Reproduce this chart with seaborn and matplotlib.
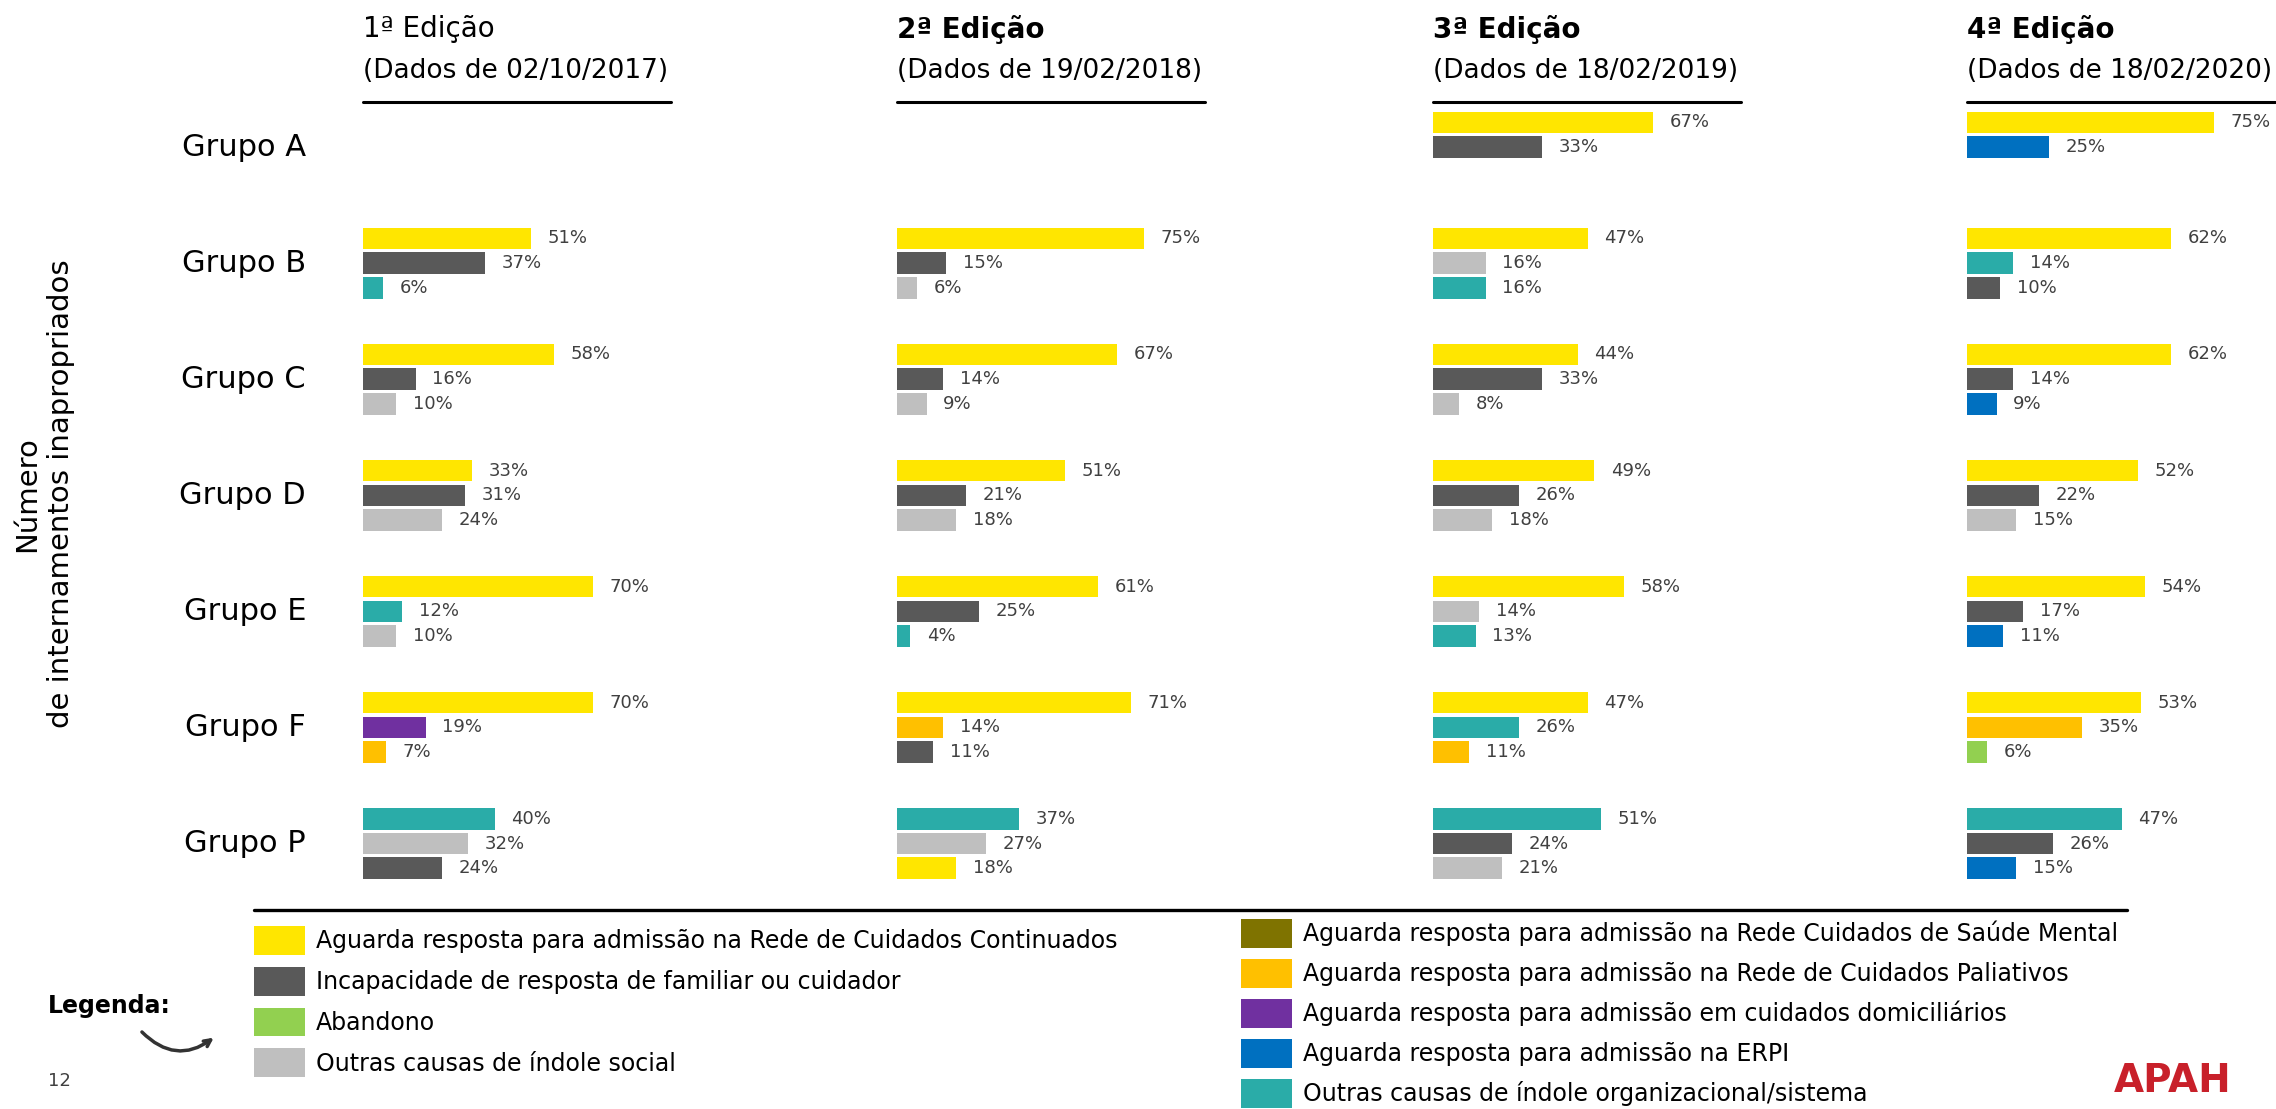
import matplotlib
matplotlib.use("Agg")
import matplotlib.pyplot as plt
import matplotlib.transforms as mtransforms
from matplotlib.lines import Line2D
from matplotlib.patches import Patch
import pandas as pd
import seaborn as sns

# dados
groups = ["Grupo A", "Grupo B", "Grupo C", "Grupo D", "Grupo E", "Grupo F", "Grupo P"]

cause_keys = ["rncci", "familiar", "abandono", "social", "mental",
              "paliativos", "domiciliarios", "erpi", "organizacional"]
cause_labels = [
    "Aguarda resposta para admissão na Rede de Cuidados Continuados",
    "Incapacidade de resposta de familiar ou cuidador",
    "Abandono",
    "Outras causas de índole social",
    "Aguarda resposta para admissão na Rede Cuidados de Saúde Mental",
    "Aguarda resposta para admissão na Rede de Cuidados Paliativos",
    "Aguarda resposta para admissão em cuidados domiciliários",
    "Aguarda resposta para admissão na ERPI",
    "Outras causas de índole organizacional/sistema",
]
cause_colors = ["#FFE600", "#595959", "#92D050", "#BFBFBF", "#7F7300",
                "#FFC000", "#7030A0", "#0070C0", "#2AACA8"]

edition_titles = ["1ª Edição", "2ª Edição", "3ª Edição", "4ª Edição"]
edition_dates = ["(Dados de 02/10/2017)", "(Dados de 19/02/2018)",
                 "(Dados de 18/02/2019)", "(Dados de 18/02/2020)"]

ed1_causes = [[],
              ["rncci", "familiar", "organizacional"],
              ["rncci", "familiar", "social"],
              ["rncci", "familiar", "social"],
              ["rncci", "organizacional", "social"],
              ["rncci", "domiciliarios", "paliativos"],
              ["organizacional", "social", "familiar"]]
ed1_values = [[], [51, 37, 6], [58, 16, 10], [33, 31, 24], [70, 12, 10], [70, 19, 7], [40, 32, 24]]

ed2_causes = [[],
              ["rncci", "familiar", "social"],
              ["rncci", "familiar", "social"],
              ["rncci", "familiar", "social"],
              ["rncci", "familiar", "organizacional"],
              ["rncci", "paliativos", "familiar"],
              ["organizacional", "social", "rncci"]]
ed2_values = [[], [75, 15, 6], [67, 14, 9], [51, 21, 18], [61, 25, 4], [71, 14, 11], [37, 27, 18]]

ed3_causes = [["rncci", "familiar"],
              ["rncci", "social", "organizacional"],
              ["rncci", "familiar", "social"],
              ["rncci", "familiar", "social"],
              ["rncci", "social", "organizacional"],
              ["rncci", "organizacional", "paliativos"],
              ["organizacional", "familiar", "social"]]
ed3_values = [[67, 33], [47, 16, 16], [44, 33, 8], [49, 26, 18], [58, 14, 13], [47, 26, 11], [51, 24, 21]]

ed4_causes = [["rncci", "erpi"],
              ["rncci", "organizacional", "familiar"],
              ["rncci", "familiar", "erpi"],
              ["rncci", "familiar", "social"],
              ["rncci", "familiar", "erpi"],
              ["rncci", "paliativos", "abandono"],
              ["organizacional", "familiar", "erpi"]]
ed4_values = [[75, 25], [62, 14, 10], [62, 14, 9], [52, 22, 15], [54, 17, 11], [53, 35, 6], [47, 26, 15]]

# layout (pixels)
W_PX, H_PX, DPI = 2276, 1109, 100
PX_PER_PCT = 3.29
GROUP_STEP = 4.7          # distância entre grupos, em "slots" de barra
SLOT_PX = 24.7
FIRST_SLOT_PX = 122.3
AX_TOP, AX_BOTTOM, AX_W = 110, 880, 300
panel_x = [363, 897, 1433, 1967]


def edition_frame(causes, values):
    rows = []
    for g, (cs, vs) in enumerate(zip(causes, values)):
        for s, (c, v) in enumerate(zip(cs, vs)):
            rows.append({"pos": g * GROUP_STEP + s, "value": v, "cause": c})
    return pd.DataFrame(rows)


def fx(px):
    return px / W_PX


def fy(py):
    return 1 - py / H_PX


sns.set_theme(style="white")
plt.rcParams["font.family"] = ["DejaVu Sans"]
plt.rcParams["text.color"] = "black"

fig = plt.figure(figsize=(W_PX / DPI, H_PX / DPI), dpi=DPI)
palette = dict(zip(cause_keys, cause_colors))

editions = [(ed1_causes, ed1_values), (ed2_causes, ed2_values),
            (ed3_causes, ed3_values), (ed4_causes, ed4_values)]

y_top = -(FIRST_SLOT_PX - AX_TOP) / SLOT_PX
y_bot = (AX_BOTTOM - FIRST_SLOT_PX) / SLOT_PX

axes = []
for i, (causes, values) in enumerate(editions):
    x0 = panel_x[i]
    ax = fig.add_axes([fx(x0), fy(AX_BOTTOM), AX_W / W_PX, (AX_BOTTOM - AX_TOP) / H_PX])
    df = edition_frame(causes, values)
    sns.barplot(data=df, x="value", y="pos", hue="cause", hue_order=cause_keys,
                palette=palette, orient="y", native_scale=True, dodge=False,
                width=0.87, errorbar=None, saturation=1, linewidth=0,
                legend=False, ax=ax)
    ax.set_xlim(0, AX_W / PX_PER_PCT)
    ax.set_ylim(y_bot, y_top)
    for cont in ax.containers:
        ax.bar_label(cont, fmt="%d%%", padding=12, fontsize=13, color="#404040")
    ax.axis("off")
    axes.append(ax)

    # cabeçalho
    fig.text(fx(x0), fy(29), edition_titles[i], fontsize=20,
             fontweight="normal" if i == 0 else "bold", ha="left", va="center")
    fig.text(fx(x0), fy(71), edition_dates[i], fontsize=19, ha="left", va="center")
    x1 = min(x0 + 308, W_PX)
    fig.add_artist(Line2D([fx(x0), fx(x1)], [fy(102), fy(102)],
                          transform=fig.transFigure, color="black", lw=2.2))

# rótulos dos grupos
trans = mtransforms.blended_transform_factory(fig.transFigure, axes[0].transData)
for g, name in enumerate(groups):
    fig.text(fx(306), g * GROUP_STEP + 1, name, transform=trans,
             fontsize=22, ha="right", va="center")

fig.text(fx(44), fy(494), "Número\nde internamentos inapropriados", rotation=90,
         fontsize=21, ha="center", va="center", multialignment="center",
         linespacing=1.25)

# linha separadora
fig.add_artist(Line2D([fx(254), fx(2127)], [fy(910), fy(910)],
                      transform=fig.transFigure, color="black", lw=2.4))

# legenda
handles = [Patch(facecolor=c, edgecolor="none", label=l) for c, l in zip(cause_colors, cause_labels)]
leg_kw = dict(loc="upper left", bbox_transform=fig.transFigure, frameon=False,
              fontsize=17, handlelength=2.16, handleheight=1.51, handletextpad=0.47,
              borderpad=0, borderaxespad=0)
leg1 = fig.legend(handles=handles[:4], bbox_to_anchor=(fx(254), fy(926)),
                  labelspacing=0.5, **leg_kw)
leg2 = fig.legend(handles=handles[4:], bbox_to_anchor=(fx(1241), fy(919)),
                  labelspacing=0.47, **leg_kw)

fig.text(fx(48), fy(1006), "Legenda:", fontsize=17, fontweight="bold",
         ha="left", va="center")
fig.add_artist(plt.Annotation("", xy=(fx(216), fy(1036)), xytext=(fx(140), fy(1030)),
                              xycoords="figure fraction", textcoords="figure fraction",
                              arrowprops=dict(arrowstyle="->", color="#333333", lw=2.5,
                                              connectionstyle="arc3,rad=0.45")))
fig.text(fx(48), fy(1081), "12", fontsize=13, color="#404040", ha="left", va="center")
fig.text(fx(2173), fy(1081), "APAH", fontsize=28, fontweight="bold", color="#C8202A",
         ha="center", va="center")

fig.savefig("out.png", dpi=DPI)
